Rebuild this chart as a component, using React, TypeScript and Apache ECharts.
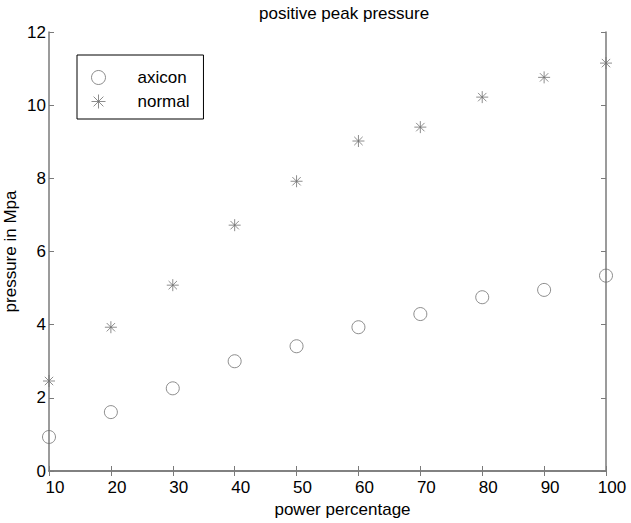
import React, { useEffect, useRef } from "react";
import * as echarts from "echarts";

const powers = [10, 20, 30, 40, 50, 60, 70, 80, 90, 100];
const axicon = [0.93, 1.61, 2.26, 3.0, 3.41, 3.93, 4.29, 4.75, 4.95, 5.34];
const normal = [2.46, 3.93, 5.08, 6.72, 7.92, 9.02, 9.4, 10.22, 10.76, 11.15];

const FONT = "Liberation Sans, Arial, sans-serif";
const AXIS_COLOR = "#7a7a7a";
const MARK_COLOR = "#707070";
const STAR = "path://M0,-6L0,6M-6,0L6,0M-4.2,-4.2L4.2,4.2M-4.2,4.2L4.2,-4.2";

export default function App() {
  const ref = useRef<HTMLDivElement>(null);
  useEffect(() => {
    if (!ref.current) return;
    const chart = echarts.init(ref.current, undefined, { renderer: "svg" });
    const axisLine = { show: true, lineStyle: { color: AXIS_COLOR, width: 1.5 } };
    const axisTick = { show: true, inside: true, length: 5, lineStyle: { color: AXIS_COLOR } };
    chart.setOption({
      animation: false,
      backgroundColor: "#ffffff",
      title: {
        text: "positive peak pressure",
        left: 254,
        top: 0,
        textStyle: { fontFamily: FONT, fontSize: 17, fontWeight: "normal", color: "#000" },
      },
      grid: { left: 49, right: 25, top: 32, bottom: 52, outerBoundsMode: "none", containLabel: false },
      legend: {
        orient: "vertical",
        left: 77,
        top: 55,
        padding: [14, 14, 8, 12],
        borderColor: "#000",
        borderWidth: 1,
        itemWidth: 18,
        itemHeight: 14,
        itemGap: 6,
        itemStyle: { borderWidth: 1 },
        textStyle: { fontFamily: FONT, fontSize: 17, color: "#000", padding: [0, 0, 0, 25] },
        data: [
          { name: "axicon", itemStyle: { borderWidth: 1 } },
          { name: "normal", itemStyle: { borderWidth: 1 } },
        ],
      },
      xAxis: [
        {
          type: "value",
          min: 10,
          max: 100,
          interval: 10,
          position: "bottom",
          name: "power percentage",
          nameLocation: "middle",
          nameGap: 30,
          nameMoveOverlap: false,
          nameTextStyle: { fontFamily: FONT, fontSize: 17, color: "#000", padding: [0, 0, 0, 30] },
          axisLine,
          axisTick,
          axisLabel: { fontFamily: FONT, fontSize: 17, color: "#000", margin: 8, padding: [0, 0, 0, 12] },
          splitLine: { show: false },
        },
        {
          type: "value",
          min: 10,
          max: 100,
          interval: 10,
          position: "top",
          axisLine,
          axisTick,
          axisLabel: { show: false },
          splitLine: { show: false },
        },
      ],
      yAxis: [
        {
          type: "value",
          min: 0,
          max: 12,
          interval: 2,
          position: "left",
          name: "pressure in Mpa",
          nameLocation: "middle",
          nameGap: 30,
          nameMoveOverlap: false,
          nameTextStyle: { fontFamily: FONT, fontSize: 17, color: "#000" },
          axisLine,
          axisTick,
          axisLabel: { fontFamily: FONT, fontSize: 17, color: "#000", margin: 3 },
          splitLine: { show: false },
        },
        {
          type: "value",
          min: 0,
          max: 12,
          interval: 2,
          position: "right",
          axisLine,
          axisTick,
          axisLabel: { show: false },
          splitLine: { show: false },
        },
      ],
      series: [
        {
          name: "axicon",
          type: "scatter",
          symbol: "circle",
          symbolSize: 13,
          itemStyle: { color: "rgba(255,255,255,0)", borderColor: MARK_COLOR, borderWidth: 1 },
          data: powers.map((p, i) => [p, axicon[i]]),
        },
        {
          name: "normal",
          type: "scatter",
          symbol: STAR,
          symbolSize: 12,
          itemStyle: { color: "none", borderColor: MARK_COLOR, borderWidth: 1 },
          data: powers.map((p, i) => [p, normal[i]]),
        },
      ],
    });
    return () => chart.dispose();
  }, []);
  return <div ref={ref} style={{ width: 631, height: 523, position: "absolute", left: 0, top: 0 }} />;
}
